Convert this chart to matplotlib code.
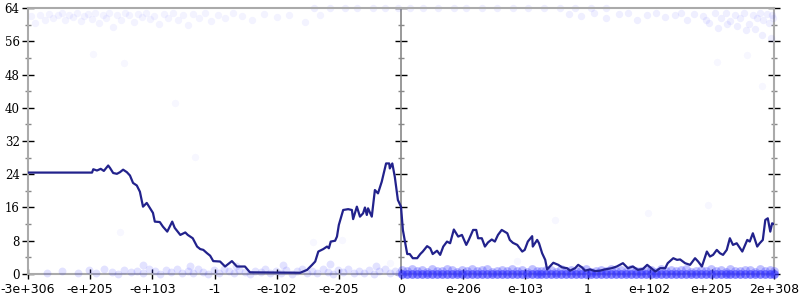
import matplotlib
matplotlib.use("Agg")
import matplotlib.pyplot as plt

# x positions are on an ordinal scale: 0..12 = one slot per tick label
x_labels = ["-3e+306", "-e+205", "-e+103", "-1", "-e-102", "-e-205", "0",
            "e-206", "e-103", "1", "e+102", "e+205", "2e+308"]
y_major = [0, 8, 16, 24, 32, 40, 48, 56, 64]
y_minor = [4, 12, 20, 28, 36, 44, 52, 60]

# error curve
line_x = [0.0, 1.03, 1.05, 1.11, 1.17, 1.22, 1.29, 1.32, 1.37, 1.43, 1.48, 1.53, 1.59,
          1.64, 1.69, 1.75, 1.8, 1.85, 1.91, 1.96, 2.01, 2.04, 2.12, 2.17, 2.24, 2.32,
          2.36, 2.45, 2.53, 2.57, 2.65, 2.72, 2.77, 2.82, 2.88, 2.93, 2.98, 3.09, 3.17,
          3.28, 3.36, 3.49, 3.57, 4.38, 4.49, 4.57, 4.62, 4.67, 4.75, 4.81, 4.84, 4.87,
          4.94, 4.97, 5.0, 5.07, 5.15, 5.21, 5.23, 5.29, 5.34, 5.39, 5.42, 5.45, 5.47,
          5.53, 5.58, 5.63, 5.69, 5.76, 5.81, 5.82, 5.86, 5.9, 5.95, 6.0, 6.03, 6.1,
          6.14, 6.19, 6.26, 6.31, 6.35, 6.42, 6.47, 6.51, 6.58, 6.63, 6.68, 6.74, 6.79,
          6.85, 6.92, 6.98, 7.05, 7.09, 7.16, 7.21, 7.24, 7.3, 7.35, 7.4, 7.46, 7.51,
          7.56, 7.62, 7.71, 7.75, 7.8, 7.87, 7.95, 7.99, 8.04, 8.11, 8.12, 8.19, 8.22,
          8.27, 8.32, 8.35, 8.4, 8.45, 8.53, 8.59, 8.67, 8.72, 8.8, 8.85, 8.91, 8.96,
          9.04, 9.12, 9.2, 9.28, 9.39, 9.47, 9.57, 9.65, 9.73, 9.81, 9.89, 9.96, 10.04,
          10.09, 10.17, 10.25, 10.29, 10.38, 10.44, 10.49, 10.57, 10.65, 10.73, 10.78,
          10.84, 10.92, 10.97, 11.02, 11.08, 11.13, 11.18, 11.24, 11.29, 11.34, 11.4,
          11.49, 11.57, 11.61, 11.66, 11.73, 11.77, 11.82, 11.86, 11.9, 11.94, 11.97, 12.0]
line_y = [24.4, 24.4, 25.2, 24.9, 25.3, 24.8, 26.1, 25.5, 24.3, 24.1, 24.5, 25.1, 24.5,
          23.7, 21.9, 21.3, 19.8, 16.2, 17.1, 15.9, 14.7, 12.6, 12.5, 11.4, 10.2, 12.6,
          11.1, 9.4, 10.0, 9.4, 8.6, 6.6, 6.0, 5.8, 5.0, 4.4, 3.1, 3.0, 1.8, 3.1, 1.8,
          1.8, 0.4, 0.3, 1.0, 2.2, 3.0, 5.4, 6.0, 6.6, 6.2, 7.8, 8.0, 9.0, 11.8, 15.4,
          15.6, 15.4, 13.2, 16.2, 13.8, 14.6, 16.0, 14.2, 15.8, 13.8, 20.2, 19.4, 22.2,
          26.6, 26.6, 25.4, 26.6, 23.4, 17.8, 16.2, 10.6, 4.8, 4.8, 3.8, 3.8, 4.8, 5.4,
          6.7, 6.2, 4.8, 5.6, 4.6, 6.6, 7.8, 7.4, 10.7, 9.0, 9.4, 7.0, 8.2, 10.6, 10.6,
          8.6, 8.6, 6.6, 7.6, 8.3, 7.8, 9.4, 10.6, 9.8, 8.2, 7.5, 7.0, 5.4, 5.8, 7.8,
          9.1, 6.6, 8.2, 7.4, 5.0, 3.4, 1.1, 1.9, 2.7, 2.2, 1.6, 1.4, 0.8, 1.4, 2.2,
          1.6, 0.8, 1.1, 0.7, 0.8, 1.1, 1.4, 1.8, 2.6, 1.4, 1.8, 1.0, 1.2, 2.2, 1.2,
          0.6, 1.4, 1.4, 2.6, 3.8, 3.4, 3.5, 2.6, 2.2, 3.8, 3.0, 1.8, 5.4, 4.2, 4.6,
          5.8, 5.0, 4.6, 5.8, 8.6, 7.0, 7.4, 5.4, 8.2, 7.8, 9.8, 6.6, 7.4, 8.2, 13.0,
          13.4, 10.2, 12.2, 12.0]

# sample points (faint dots)
top_left_x = [0.05, 0.12, 0.2, 0.27, 0.33, 0.41, 0.48, 0.55, 0.6, 0.66, 0.72, 0.79,
              0.85, 0.9, 0.97, 1.03, 1.08, 1.15, 1.2, 1.26, 1.31, 1.37, 1.43, 1.5, 1.56,
              1.62, 1.7, 1.77, 1.83, 1.9, 1.96, 2.03, 2.1, 2.18, 2.25, 2.33, 2.41, 2.5,
              2.58, 2.66, 2.75, 2.85, 2.95, 3.05, 3.17, 3.3, 3.45, 3.6, 3.8, 4.0, 4.2,
              4.45, 4.7]
top_left_y = [62.0, 60.5, 62.3, 61.2, 62.6, 61.6, 62.2, 62.8, 61.0, 62.4, 61.8, 62.9,
              60.8, 62.1, 62.6, 61.4, 62.9, 60.3, 62.2, 61.7, 62.8, 59.5, 62.4, 61.1,
              62.7, 62.2, 60.7, 62.5, 61.9, 62.8, 61.3, 62.1, 60.2, 62.6, 61.5, 62.9,
              61.0, 62.3, 59.8, 62.5, 61.6, 62.8, 60.9, 62.2, 61.7, 62.9, 62.0, 61.2,
              62.6, 61.8, 62.4, 60.6, 62.3]
top_right_x = [8.7, 8.9, 9.1, 9.3, 9.5, 9.65, 9.8, 9.95, 10.1, 10.25, 10.4, 10.5, 10.6,
               10.72, 10.85, 10.95, 11.05, 11.15, 11.22, 11.3, 11.38, 11.45, 11.52, 11.6,
               11.66, 11.72, 11.78, 11.83, 11.88, 11.92, 11.96, 11.99, 11.7, 11.55, 11.4,
               11.25, 11.1, 10.9, 11.8, 11.95]
top_right_y = [62.6, 62.0, 62.8, 61.5, 62.5, 62.9, 61.2, 62.4, 62.8, 61.8, 62.3, 62.9,
               61.0, 62.5, 62.1, 60.4, 62.7, 61.6, 62.9, 60.8, 62.3, 61.5, 62.8, 60.2,
               62.4, 61.7, 62.9, 61.1, 62.5, 60.5, 62.2, 61.6, 59.0, 58.6, 59.6, 60.1,
               59.3, 61.0, 57.5, 56.8]
top_edge_x = [4.6, 4.85, 5.1, 5.3, 5.55, 5.75, 5.95, 6.15, 6.35, 6.6, 6.85, 7.05, 7.3,
              7.55, 7.8, 8.05, 8.3, 8.55, 8.8, 9.05, 9.3]
top_edge_y = [64.0, 64.0, 64.0, 64.0, 64.0, 64.0, 64.0, 64.0, 64.0, 64.0, 64.0, 64.0,
              64.0, 64.0, 64.0, 64.0, 64.0, 64.0, 64.0, 64.0, 64.0]
bottom_left_x = [0.3, 0.55, 0.8, 0.98, 1.1, 1.22, 1.35, 1.45, 1.55, 1.66, 1.76, 1.85,
                 1.95, 2.05, 2.13, 2.22, 2.3, 2.4, 2.48, 2.57, 2.65, 2.74, 2.82, 2.9,
                 2.99, 3.07, 3.15, 3.24, 3.32, 3.4, 3.49, 3.57, 3.65, 3.74, 3.82, 3.9,
                 3.99, 4.07, 4.15, 4.24, 4.32, 4.4, 4.49, 4.57, 4.65, 4.74, 4.82, 4.9,
                 4.99, 5.07, 5.15, 5.24, 5.32, 5.4, 5.49, 5.57, 5.65, 5.74, 5.82, 5.9,
                 5.97, 1.85, 2.6, 3.35, 4.1, 4.85, 5.6]
bottom_left_y = [0.2, 0.6, 0.3, 0.9, 0.2, 1.2, 0.5, 0.1, 1.0, 0.4, 0.8, 0.2, 1.3, 0.6,
                 0.1, 0.9, 0.4, 1.1, 0.2, 0.7, 0.3, 1.2, 0.5, 0.1, 0.9, 0.3, 1.1, 0.6,
                 0.2, 1.0, 0.4, 0.1, 0.8, 0.5, 1.2, 0.2, 0.7, 0.3, 1.0, 0.1, 0.6, 1.3,
                 0.3, 0.8, 0.2, 1.1, 0.5, 0.1, 0.9, 0.4, 1.2, 0.2, 0.7, 0.3, 1.0, 0.1,
                 0.6, 1.2, 0.3, 0.8, 0.2, 2.2, 2.0, 1.9, 2.1, 2.3, 2.0]
bottom_right_x = [6.02, 6.1, 6.18, 6.26, 6.34, 6.42, 6.5, 6.58, 6.66, 6.74, 6.82, 6.9,
                  6.98, 7.06, 7.14, 7.22, 7.3, 7.38, 7.46, 7.54, 7.62, 7.7, 7.78, 7.86,
                  7.94, 8.02, 8.1, 8.18, 8.26, 8.34, 8.42, 8.5, 8.58, 8.66, 8.74, 8.82,
                  8.9, 8.98, 9.06, 9.14, 9.22, 9.3, 9.38, 9.46, 9.54, 9.62, 9.7, 9.78,
                  9.86, 9.94, 10.02, 10.1, 10.18, 10.26, 10.34, 10.42, 10.5, 10.58,
                  10.66, 10.74, 10.82, 10.9, 10.98, 11.06, 11.14, 11.22, 11.3, 11.38,
                  11.46, 11.54, 11.62, 11.7, 11.78, 11.86, 11.94, 12.0]
bottom_right_y0 = [0.0] * len(bottom_right_x)
bottom_right_y1 = [0.9, 0.6, 1.1, 0.7, 1.0, 0.5, 1.2, 0.8, 0.6, 1.1, 0.9, 0.5, 1.0,
                   0.7, 1.2, 0.6, 0.9, 1.1, 0.5, 0.8, 1.0, 0.7, 1.2, 0.6, 0.9, 0.5,
                   1.1, 0.8, 0.6, 1.0, 0.9, 0.5, 1.2, 0.7, 1.0, 0.6, 0.9, 1.1, 0.5,
                   0.8, 1.0, 0.7, 1.2, 0.6, 0.9, 0.5, 1.1, 0.8, 0.6, 1.0, 0.9, 0.5,
                   1.2, 0.7, 1.0, 0.6, 0.9, 1.1, 0.5, 0.8, 1.0, 0.7, 1.2, 0.6, 0.9,
                   0.5, 1.1, 0.8, 0.6, 1.0, 0.9, 0.5, 1.2, 0.7, 1.0, 0.6]
outlier_x = [1.05, 1.54, 2.37, 2.69, 1.48, 4.59, 5.05, 5.82, 7.87, 8.48, 9.97, 10.94,
             11.09, 11.57, 11.81]
outlier_y = [53.0, 50.8, 41.1, 28.2, 10.1, 7.7, 8.2, 2.6, 3.1, 13.0, 14.7, 16.6, 51.0,
             52.7, 45.2]

fig = plt.figure(figsize=(8, 3), dpi=100)
ax = fig.add_axes([0.035, 0.0867, 0.9325, 0.8866])

dot = dict(color="#3333ff", linewidths=0, clip_on=False)
ax.scatter(top_left_x, top_left_y, s=28, alpha=0.06, zorder=2, **dot)
ax.scatter(top_right_x, top_right_y, s=28, alpha=0.08, zorder=2, **dot)
ax.scatter(top_edge_x, top_edge_y, s=28, alpha=0.08, zorder=2, **dot)
ax.scatter(outlier_x, outlier_y, s=28, alpha=0.04, zorder=2, **dot)
ax.scatter(bottom_left_x, bottom_left_y, s=32, alpha=0.14, zorder=3, **dot)
ax.scatter(bottom_right_x, bottom_right_y1, s=40, alpha=0.3, zorder=3, **dot)
ax.scatter(bottom_right_x, bottom_right_y0, s=40, alpha=0.6, zorder=3, **dot)

ax.plot(line_x, line_y, color="#22228c", lw=1.6, zorder=4, solid_joinstyle="round")

ax.set_xlim(0, 12)
ax.set_ylim(0, 64)

for side in ["left", "top", "bottom"]:
    ax.spines[side].set_color("#aaaaaa")
    ax.spines[side].set_linewidth(1.5)
ax.spines["right"].set_visible(False)

ax.set_xticks(range(len(x_labels)))
ax.set_xticklabels(x_labels, fontsize=9, family="DejaVu Sans")
ax.set_yticks(y_major)
ax.set_yticks(y_minor, minor=True)
ax.set_yticklabels([str(v) for v in y_major], fontsize=8.5, family="DejaVu Serif")
ax.tick_params(axis="x", direction="inout", length=7, width=1, color="black", pad=3)
ax.tick_params(axis="y", which="major", direction="inout", length=8, width=1,
               color="black", pad=2)
ax.tick_params(axis="y", which="minor", direction="inout", length=4.5, width=1,
               color="#888888")

# extra y axes at x = 0 (middle) and on the right
for loc, col in [(0.5, "#888888"), ("right", "#aaaaaa")]:
    sec = ax.secondary_yaxis(loc)
    sec.set_yticks(y_major)
    sec.set_yticks(y_minor, minor=True)
    sec.tick_params(which="both", labelleft=False, labelright=False)
    sec.tick_params(which="major", direction="inout", length=8, width=1, color="black")
    sec.tick_params(which="minor", direction="inout", length=4.5, width=1, color="#888888")
    for s in sec.spines.values():
        s.set_color(col)
        s.set_linewidth(1.2 if loc == 0.5 else 1.5)

fig.savefig("out.png", dpi=100)
